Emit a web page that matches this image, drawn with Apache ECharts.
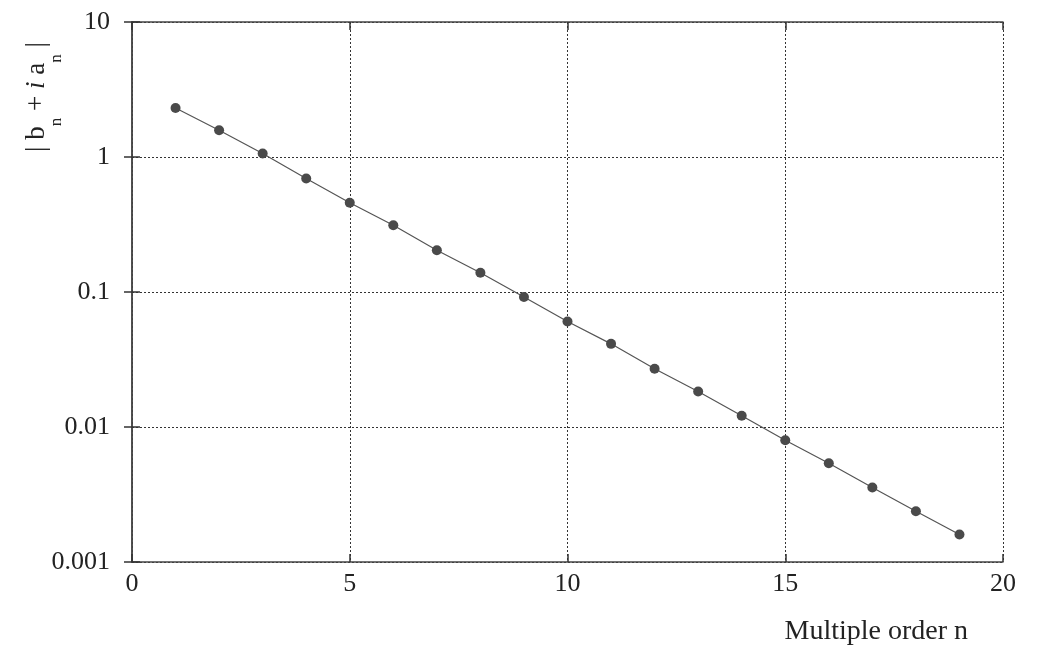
<!DOCTYPE html>
<html>
<head>
<meta charset="utf-8">
<script src="https://cdn.jsdelivr.net/npm/echarts@6/dist/echarts.min.js"></script>
<style>html,body{margin:0;padding:0;background:#fff}#c{width:1038px;height:646px}</style>
</head>
<body>
<div id="c"></div>
<script>
const orders = [1,2,3,4,5,6,7,8,9,10,11,12,13,14,15,16,17,18,19];
const magnitudes = [2.31,1.58,1.06,0.693,0.458,0.312,0.204,0.139,0.0919,0.0604,0.0413,0.0270,0.0183,0.0121,0.00798,0.00539,0.00356,0.00238,0.00160];
const xTicks = [0,5,10,15,20];
const yTicks = [0.001,0.01,0.1,1,10];
const xName = 'Multiple order n';

const FONT = '"Liberation Serif", "DejaVu Serif", serif';
const chart = echarts.init(document.getElementById('c'));
const points = orders.map((n,i)=>[n, magnitudes[i]]);
const tickStyle = {show:true, inside:true, length:8, lineStyle:{color:'#333', width:1.5}};
const lineAx = {show:true, lineStyle:{color:'#444', width:1.5}};
const gridLine = {show:true, lineStyle:{color:'#333', width:1, type:[2,2]}};
chart.setOption({
  animation:false,
  backgroundColor:'#fff',
  grid:{left:132, right:35, top:22, bottom:84, containLabel:false},
  xAxis:[{
    type:'value', min:xTicks[0], max:xTicks[xTicks.length-1], interval:5,
    axisLine:lineAx, axisTick:tickStyle, splitLine:gridLine,
    axisLabel:{fontFamily:FONT, fontSize:26, color:'#222', margin:9},
    name:xName, nameLocation:'end', nameGap:0,
    nameTextStyle:{fontFamily:FONT, fontSize:28, color:'#222', align:'right', verticalAlign:'top', padding:[56,35,0,0]}
  },{
    type:'value', position:'top', min:0, max:20, interval:5,
    axisLine:lineAx, axisTick:tickStyle, axisLabel:{show:false}, splitLine:{show:false}
  }],
  yAxis:[{
    type:'log', logBase:10, min:yTicks[0], max:yTicks[yTicks.length-1], splitNumber:4,
    axisLine:lineAx, axisTick:tickStyle, splitLine:gridLine, minorTick:{show:false},
    axisLabel:{fontFamily:FONT, fontSize:26, color:'#222', margin:22,
      formatter:v=>{ const t = yTicks.find(k=>Math.abs(Math.log10(k)-Math.log10(v))<1e-6); return t!==undefined? String(t) : ''; }}
  },{
    type:'log', logBase:10, min:0.001, max:10, splitNumber:4, position:'right',
    axisLine:lineAx, axisTick:tickStyle, axisLabel:{show:false}, splitLine:{show:false}
  }],
  graphic:[{
    type:'text', x:37, y:97, rotation:Math.PI/2,
    style:{
      text:'{m|| b}{s|n}{m| + }{i|i}{m| a}{s|n}{m| |}',
      align:'center', verticalAlign:'middle',
      rich:{
        m:{fontFamily:FONT, fontSize:27, lineHeight:56, fill:'#222'},
        i:{fontFamily:FONT, fontSize:27, fontStyle:'italic', lineHeight:56, fill:'#222'},
        s:{fontFamily:FONT, fontSize:17, lineHeight:17, verticalAlign:'bottom', fill:'#222'}
      }
    }
  }],
  series:[{
    type:'line', data:points, xAxisIndex:0, yAxisIndex:0,
    symbol:'circle', symbolSize:10,
    lineStyle:{color:'#555', width:1.2},
    itemStyle:{color:'#4a4a4a'}
  }]
});
</script>
</body>
</html>
